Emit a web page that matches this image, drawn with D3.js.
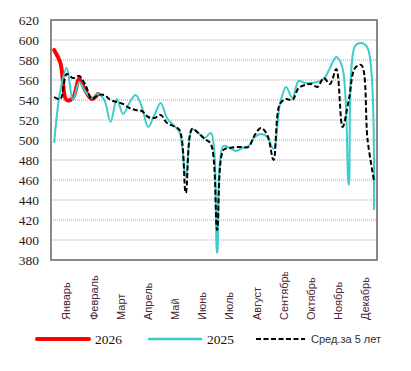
<!DOCTYPE html>
<html>
<head>
    <meta charset="utf-8">
    <style>
        body {
            margin: 0;
            background: #fff;
        }
        svg {
            display: block;
        }
    </style>
</head>
<body>
    <svg width="411" height="371"></svg>

    <script src="https://d3js.org/d3.v7.min.js"></script>
    <script>
        // Weekly values
        const months = ["Январь", "Февраль", "Март", "Апрель", "Май", "Июнь",
                        "Июль", "Август", "Сентябрь", "Октябрь", "Ноябрь", "Декабрь"];
        const yTicks = [380, 400, 420, 440, 460, 480, 500, 520, 540, 560, 580, 600, 620];

        const y2026 = [590, 577, 540, 542, 561, 549, 541, 546];

        const y2025 = [497, 550, 572, 540, 558, 548, 542, 546, 540, 518,
                       541, 526, 537, 545, 533, 513, 525, 537, 522, 515,
                       508, 463, 511, 507, 502, 507, 387, 494, 492, 489,
                       492, 494, 503, 506, 503, 491, 535, 553, 542, 559,
                       557, 557, 558, 561, 572, 583, 572, 455, 594, 597,
                       592, 430];

        const yAvg = [543, 541, 566, 562, 564, 555, 541, 545, 545, 540,
                      538, 536, 532, 530, 529, 523, 522, 525, 517, 514,
                      510, 447, 511, 507, 501, 496, 410, 490, 492, 493,
                      493, 493, 505, 512, 505, 480, 536, 541, 540, 552,
                      555, 556, 553, 562, 556, 571, 513, 540, 572, 575,
                      500, 460];

        const svg = d3.select("svg");
        const plotLeft = 51, plotRight = 377, plotTop = 20, plotBottom = 260;

        const x = d3.scaleBand()
            .domain(d3.range(y2025.length))
            .range([plotLeft, plotRight]);
        const xm = d3.scaleBand()
            .domain(months)
            .range([plotLeft, plotRight]);
        const y = d3.scaleLinear()
            .domain([380, 620])
            .range([plotBottom, plotTop]);

        // Gridlines
        svg.append("g")
            .selectAll("line")
            .data(yTicks.filter(d => d > 380 && d < 620))
            .join("line")
            .attr("x1", plotLeft)
            .attr("x2", plotRight)
            .attr("y1", d => y(d))
            .attr("y2", d => y(d))
            .attr("stroke", "#a6a6a6")
            .attr("stroke-width", 1)
            .attr("stroke-dasharray", "1,1");

        // Y labels
        svg.append("g")
            .selectAll("text")
            .data(yTicks)
            .join("text")
            .attr("x", 39)
            .attr("y", d => y(d))
            .attr("dy", "0.35em")
            .attr("text-anchor", "end")
            .attr("font-family", "Liberation Serif")
            .attr("font-size", 13.5)
            .attr("fill", "#2b1d14")
            .text(d => d);

        const px = (d, i) => x(i) + x.bandwidth() / 2;
        const line = d3.line()
            .x(px)
            .y(d => y(d))
            .curve(d3.curveCatmullRom.alpha(0.5));

        const plot = svg.append("g");

        plot.append("path")
            .datum(y2026)
            .attr("d", line)
            .attr("fill", "none")
            .attr("stroke", "#ff0000")
            .attr("stroke-width", 4)
            .attr("stroke-linecap", "round");

        plot.append("path")
            .datum(y2025)
            .attr("d", line)
            .attr("fill", "none")
            .attr("stroke", "#3ecbcb")
            .attr("stroke-width", 2);

        plot.append("path")
            .datum(yAvg)
            .attr("d", line)
            .attr("fill", "none")
            .attr("stroke", "#000")
            .attr("stroke-width", 2)
            .attr("stroke-dasharray", "5,2.5");

        // Frame
        svg.append("rect")
            .attr("x", plotLeft)
            .attr("y", plotTop)
            .attr("width", plotRight - plotLeft)
            .attr("height", plotBottom - plotTop)
            .attr("fill", "none")
            .attr("stroke", "#898989")
            .attr("stroke-width", 2);

        // Month labels, clipped at the top like the original
        svg.append("clipPath")
            .attr("id", "mclip")
            .append("rect")
            .attr("x", 0)
            .attr("y", 272)
            .attr("width", 411)
            .attr("height", 60);

        svg.append("g")
            .attr("clip-path", "url(#mclip)")
            .selectAll("text")
            .data(months)
            .join("text")
            .attr("transform", d => `translate(${xm(d) + xm.bandwidth() / 2 + 2},320) rotate(-90)`)
            .attr("dy", "0.35em")
            .attr("font-family", "Liberation Sans")
            .attr("font-size", 11)
            .attr("fill", "#4a2535")
            .text(d => d);

        // Legend
        const legend = svg.append("g");
        const items = [
            {label: "2026", color: "#ff0000", width: 4, dash: null, x1: 37, x2: 89, font: "Liberation Serif", size: 13.5},
            {label: "2025", color: "#3ecbcb", width: 2.5, dash: null, x1: 149, x2: 201, font: "Liberation Serif", size: 13.5},
            {label: "Сред.за 5 лет", color: "#000", width: 2, dash: "5,2.5", x1: 256, x2: 305, font: "Liberation Sans", size: 11}
        ];
        items.forEach(d => {
            legend.append("line")
                .attr("x1", d.x1)
                .attr("x2", d.x2)
                .attr("y1", 339)
                .attr("y2", 339)
                .attr("stroke", d.color)
                .attr("stroke-width", d.width)
                .attr("stroke-linecap", d.dash ? "butt" : "round")
                .attr("stroke-dasharray", d.dash);
            legend.append("text")
                .attr("x", d.x2 + 6)
                .attr("y", 339)
                .attr("dy", "0.35em")
                .attr("font-family", d.font)
                .attr("font-size", d.size)
                .attr("fill", d.dash ? "#333" : "#111")
                .text(d.label);
        });
    </script>
</body>
</html>
